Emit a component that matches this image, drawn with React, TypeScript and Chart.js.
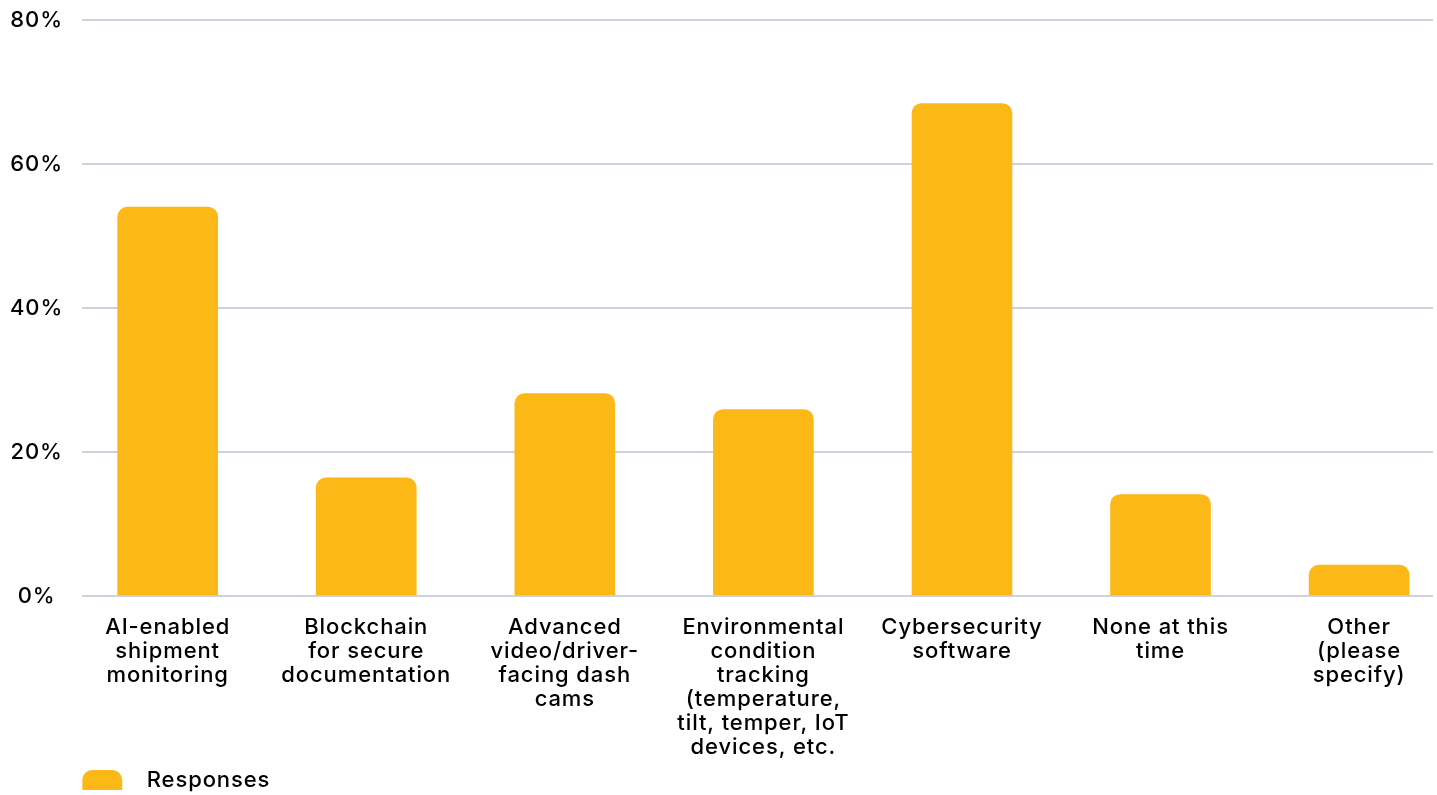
import React, { useEffect, useRef } from "react";
import { Chart, registerables } from "chart.js";

Chart.register(...registerables);

const CATEGORIES: string[][] = [
  ["AI-enabled", "shipment", "monitoring"],
  ["Blockchain", "for secure", "documentation"],
  ["Advanced", "video/driver-", "facing dash", "cams"],
  ["Environmental", "condition", "tracking", "(temperature,", "tilt, temper, IoT", "devices, etc."],
  ["Cybersecurity", "software"],
  ["None at this", "time"],
  ["Other", "(please", "specify)"],
];
const RESPONSES: number[] = [54, 16.4, 28.1, 25.9, 68.4, 14.1, 4.3];
const SERIES_NAME = "Responses";
const Y_MAX = 80;
const Y_STEP = 20;

const FONT = "Inter, 'Noto Sans', sans-serif";
const WEIGHT = 550;
const BAR = "#FCB817";
const TOP_ROUND = { topLeft: 10, topRight: 10, bottomLeft: 0, bottomRight: 0 };

const spacingPlugin = {
  id: "letterSpacing",
  beforeUpdate(chart: any) {
    chart.ctx.letterSpacing = "0.9px";
  },
  beforeDraw(chart: any) {
    chart.ctx.letterSpacing = "0.9px";
  },
};

export default function App() {
  const ref = useRef<HTMLCanvasElement | null>(null);
  useEffect(() => {
    document.body.style.margin = "0";
    const canvas = ref.current;
    if (!canvas) return;
    const chart = new Chart(canvas, {
      type: "bar",
      data: {
        datasets: [
          {
            label: SERIES_NAME,
            data: RESPONSES.map((v, i) => ({ x: i, y: v })),
            backgroundColor: BAR,
            borderWidth: 0,
            borderRadius: 10,
            borderSkipped: "start",
            barThickness: 100,
          },
        ],
      },
      plugins: [spacingPlugin],
      options: {
        responsive: false,
        animation: false,
        maintainAspectRatio: false,
        layout: { padding: { top: 20, left: -9, right: 4, bottom: -6 } },
        scales: {
          x: {
            type: "linear",
            offset: false,
            min: -0.4305,
            max: 6.372,
            grid: { display: false, drawTicks: false },
            border: { display: false },
            ticks: {
              stepSize: 1,
              includeBounds: false,
              autoSkip: false,
              maxRotation: 0,
              padding: 19,
              color: "#000",
              font: { family: FONT, size: 22, weight: WEIGHT, lineHeight: "24px" },
              callback: (v: any) => CATEGORIES[v as number] ?? "",
            },
            afterFit: (scale: any) => {
              scale.height = 173;
            },
          },
          y: {
            min: 0,
            max: Y_MAX,
            grid: { color: "#CDD2DE", lineWidth: 2, drawTicks: false },
            border: { display: false },
            ticks: {
              stepSize: Y_STEP,
              padding: 19,
              crossAlign: "center",
              color: "#000",
              font: { family: FONT, size: 22, weight: WEIGHT },
              callback: (v: any) => v + "%",
            },
            afterFit: (scale: any) => {
              scale.paddingTop = 0;
              scale.paddingBottom = 0;
            },
          },
        },
        plugins: {
          tooltip: { enabled: false },
          legend: {
            position: "bottom",
            align: "start",
            fullSize: false,
            labels: {
              boxWidth: 40,
              boxHeight: 20,
              padding: 0,
              color: "#000",
              useBorderRadius: true,
              borderRadius: TOP_ROUND as any,
              font: { family: FONT, size: 22, weight: WEIGHT },
              generateLabels: (c: any) =>
                c.data.datasets.map((d: any, i: number) => ({
                  text: "  " + d.label,
                  fillStyle: d.backgroundColor,
                  strokeStyle: d.backgroundColor,
                  fontColor: "#000",
                  lineWidth: 0,
                  hidden: false,
                  datasetIndex: i,
                  borderRadius: TOP_ROUND,
                })),
            },
          },
        },
      },
    });
    return () => chart.destroy();
  }, []);
  return (
    <div style={{ width: 1437, height: 795 }}>
      <canvas ref={ref} width={1437} height={795} style={{ display: "block" }} />
    </div>
  );
}
